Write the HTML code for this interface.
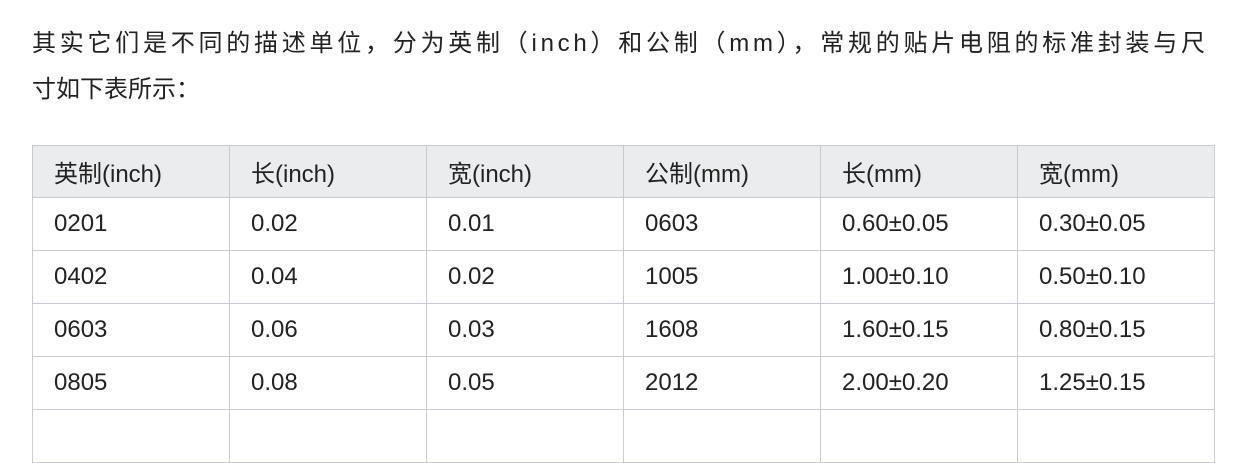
<!DOCTYPE html>
<html><head><meta charset="utf-8">
<style>
html,body{margin:0;padding:0;background:#fff;width:1238px;height:409px;overflow:hidden;}
body{font-family:"Liberation Sans","Noto Sans CJK SC",sans-serif;color:#222;}
.p{position:absolute;left:32px;top:21px;width:1200px;font-size:24px;line-height:46px;margin:0;white-space:nowrap;}
.l1{letter-spacing:3.75px;}
table{position:absolute;left:32px;top:145px;border-collapse:collapse;font-size:24px;}
td,th{border:1px solid #c9cad1;width:175px;padding:0 0 0 21px;height:52px;text-align:left;font-weight:normal;color:#222;}
th{background:#ebecee;height:51px;}
</style></head><body>
<p class="p"><span class="l1">其实它们是不同的描述单位，分为英制（inch）和公制（mm），常规的贴片电阻的标准封装与尺</span><br>寸如下表所示：</p>
<table>
<tr><th>英制(inch)</th><th>长(inch)</th><th>宽(inch)</th><th>公制(mm)</th><th>长(mm)</th><th>宽(mm)</th></tr>
<tr><td>0201</td><td>0.02</td><td>0.01</td><td>0603</td><td>0.60±0.05</td><td>0.30±0.05</td></tr>
<tr><td>0402</td><td>0.04</td><td>0.02</td><td>1005</td><td>1.00±0.10</td><td>0.50±0.10</td></tr>
<tr><td>0603</td><td>0.06</td><td>0.03</td><td>1608</td><td>1.60±0.15</td><td>0.80±0.15</td></tr>
<tr><td>0805</td><td>0.08</td><td>0.05</td><td>2012</td><td>2.00±0.20</td><td>1.25±0.15</td></tr>
<tr><td></td><td></td><td></td><td></td><td></td><td></td></tr>
</table>
</body></html>
